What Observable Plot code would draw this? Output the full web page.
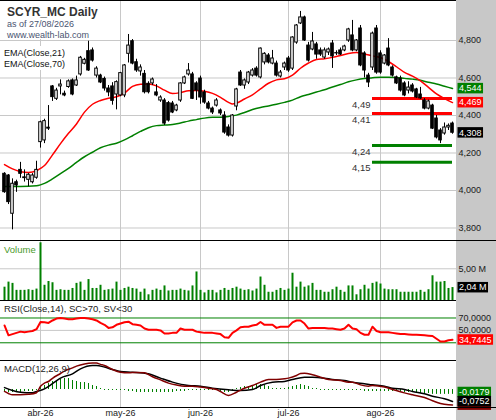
<!DOCTYPE html>
<html><head><meta charset="utf-8">
<script src="https://cdn.jsdelivr.net/npm/d3@7"></script>
<script src="https://cdn.jsdelivr.net/npm/@observablehq/plot@0.6"></script>
<style>
body{margin:0;background:#fff;}
#wrap{position:relative;width:496px;height:420px;overflow:hidden;background:linear-gradient(to right,#fff 0,#fff 456px,#c8c8c8 456px,#c8c8c8 496px);}
#wrap svg{position:absolute;left:0;}
</style></head><body><div id="wrap"></div>
<script>
// ---- data ----
const opens = [4.089,4.080,3.876,4.044,4.110,4.070,4.057,4.044,4.068,4.258, 4.267,4.335,4.555,4.489,4.555,4.516,4.552,4.587,4.560,4.619, 4.676,4.743,4.747,4.613,4.613,4.595,4.544,4.555,4.512,4.507, 4.507,4.729,4.796,4.684,4.635,4.622,4.569,4.571,4.523,4.480, 4.480,4.466,4.464,4.427,4.480,4.571,4.619,4.619,4.571,4.597, 4.523,4.464,4.437,4.453,4.427,4.400,4.336,4.293,4.448,4.629, 4.560,4.576,4.613,4.650,4.603,4.683,4.720,4.677,4.677,4.608, 4.656,4.704,4.650,4.789,4.891,4.923,4.773,4.752,4.779,4.747, 4.709,4.736,4.784,4.731,4.747,4.747,4.800,4.827,4.747,4.864, 4.731,4.613,4.656,4.864,4.731,4.677,4.757,4.656,4.603,4.597, 4.571,4.533,4.560,4.539,4.512,4.480,4.437,4.453,4.384,4.320, 4.304,4.336,4.357];
const highs = [4.095,4.085,4.062,4.055,4.150,4.110,4.090,4.090,4.156,4.370, 4.380,4.453,4.560,4.545,4.590,4.530,4.590,4.595,4.610,4.715, 4.705,4.796,4.760,4.660,4.620,4.605,4.560,4.575,4.585,4.630, 4.672,4.832,4.805,4.700,4.670,4.640,4.580,4.600,4.565,4.505, 4.490,4.475,4.475,4.460,4.575,4.610,4.677,4.630,4.580,4.610, 4.535,4.475,4.445,4.490,4.435,4.420,4.350,4.405,4.545,4.640, 4.595,4.635,4.650,4.660,4.760,4.735,4.730,4.747,4.690,4.640, 4.685,4.715,4.820,4.885,4.955,4.930,4.790,4.843,4.790,4.760, 4.760,4.760,4.800,4.745,4.760,4.775,4.865,4.907,4.805,4.880, 4.740,4.625,4.845,4.880,4.745,4.725,4.810,4.665,4.610,4.610, 4.580,4.580,4.570,4.545,4.550,4.490,4.482,4.460,4.400,4.330, 4.360,4.355,4.365];
const lows = [3.985,3.925,3.790,3.990,4.065,4.045,4.020,4.035,4.060,4.226, 4.250,4.320,4.475,4.480,4.510,4.500,4.545,4.505,4.555,4.610, 4.670,4.635,4.685,4.600,4.570,4.530,4.500,4.455,4.430,4.500, 4.495,4.680,4.670,4.630,4.610,4.515,4.515,4.560,4.500,4.470, 4.347,4.365,4.410,4.420,4.470,4.565,4.610,4.485,4.480,4.460, 4.460,4.430,4.405,4.445,4.400,4.300,4.285,4.285,4.425,4.555, 4.540,4.565,4.605,4.605,4.595,4.670,4.675,4.670,4.605,4.600, 4.640,4.630,4.640,4.780,4.885,4.795,4.685,4.745,4.700,4.715, 4.700,4.720,4.651,4.720,4.720,4.740,4.790,4.740,4.740,4.660, 4.600,4.549,4.640,4.620,4.620,4.670,4.660,4.605,4.565,4.525, 4.500,4.515,4.520,4.490,4.485,4.430,4.430,4.325,4.275,4.250, 4.295,4.320,4.300];
const closes = [3.991,3.938,4.036,4.027,4.089,4.066,4.084,4.080,4.110,4.364, 4.370,4.330,4.498,4.533,4.565,4.507,4.582,4.512,4.587,4.708, 4.697,4.640,4.693,4.650,4.576,4.544,4.523,4.478,4.578,4.626, 4.667,4.773,4.677,4.640,4.656,4.524,4.524,4.592,4.507,4.496, 4.357,4.373,4.416,4.453,4.571,4.603,4.640,4.489,4.533,4.496, 4.469,4.437,4.416,4.480,4.411,4.309,4.293,4.400,4.539,4.560, 4.587,4.629,4.640,4.613,4.757,4.729,4.683,4.704,4.613,4.629, 4.677,4.640,4.816,4.880,4.923,4.800,4.693,4.795,4.725,4.725, 4.747,4.752,4.715,4.733,4.725,4.768,4.859,4.747,4.800,4.667, 4.640,4.576,4.837,4.629,4.629,4.720,4.667,4.613,4.571,4.533, 4.507,4.549,4.528,4.496,4.491,4.437,4.475,4.330,4.283,4.267, 4.336,4.345,4.308];
const volumes = [2.1,2.9,2.7,1.6,1.6,1.6,1.7,1.6,1.8,9.1, 2.4,3.0,2.8,1.6,1.7,1.6,1.6,1.9,2.7,2.9, 1.6,3.3,1.9,1.9,2.4,1.6,1.7,1.8,2.9,1.6, 1.9,2.1,1.9,1.8,1.3,1.8,0.9,1.6,1.8,1.6, 2.3,1.5,1.6,1.6,1.8,1.6,1.5,2.3,4.5,1.6, 1.2,1.6,1.6,1.2,1.6,1.9,1.6,1.9,2.1,1.8, 1.6,1.7,1.5,1.8,3.7,2.4,1.3,1.3,1.6,1.9, 1.6,1.8,4.3,2.1,2.9,2.1,2.3,2.7,1.6,1.6, 1.3,1.3,1.7,2.1,1.6,1.3,2.3,2.3,0.9,1.7, 2.4,1.8,2.7,2.9,2.6,1.8,1.7,1.7,1.7,1.3, 1.3,1.3,1.3,1.3,1.6,1.3,1.7,3.9,2.9,2.9, 3.0,1.9,2.04];
const rsi = [58,42,44,46,48,47,48,49,52,63.5, 63,62,66,69,70,69,68,68,69,70, 70,69,68,66,62,59,54,55,59,61, 63,64,60,59,58,53,51,51,51,50, 45,45,46,46,53,51,51,51,48,47, 46,46,46,45,44,39,38,46,50,55, 56,56,58,59,63.5,59,59,59,54,56, 56,56,63,66,66,61,53,54,54,54, 54,53,53,52,51,53,59,53,52,46, 43,43,56,49,47,47,47,46,45,44, 44,43.5,43,43,42.5,42,41.5,41,36.5,32, 32,34,34.7445];
const ema21 = [[0,4.138],[2,4.115],[4,4.100],[6,4.096],[8,4.105],[9,4.118],[10,4.133],[12,4.190],[14,4.250],[16,4.305],[18,4.355],[20,4.418],[22,4.460],[24,4.480],[26,4.492],[28,4.500],[30,4.520],[32,4.555],[34,4.567],[36,4.568],[38,4.558],[40,4.535],[42,4.517],[44,4.522],[46,4.532],[48,4.533],[50,4.529],[52,4.518],[54,4.497],[56,4.470],[57,4.461],[58,4.466],[60,4.488],[62,4.510],[64,4.542],[66,4.572],[68,4.590],[70,4.596],[72,4.615],[74,4.652],[76,4.680],[78,4.699],[80,4.703],[82,4.710],[84,4.720],[86,4.731],[88,4.736],[90,4.728],[92,4.718],[94,4.709],[96,4.688],[98,4.660],[100,4.630],[102,4.610],[104,4.585],[106,4.550],[108,4.515],[110,4.490],[112,4.469]];
const ema70 = [[0,4.021],[4,4.021],[8,4.025],[9,4.030],[10,4.038],[12,4.062],[14,4.090],[16,4.118],[18,4.150],[20,4.180],[22,4.204],[24,4.228],[26,4.242],[28,4.252],[30,4.270],[32,4.292],[34,4.315],[36,4.335],[38,4.346],[40,4.349],[42,4.352],[44,4.360],[46,4.370],[48,4.378],[50,4.386],[52,4.390],[54,4.391],[56,4.395],[58,4.402],[60,4.416],[62,4.432],[64,4.443],[66,4.451],[68,4.460],[70,4.470],[72,4.482],[74,4.500],[76,4.512],[78,4.525],[80,4.537],[82,4.552],[84,4.565],[86,4.580],[88,4.590],[90,4.597],[92,4.601],[94,4.604],[96,4.604],[98,4.603],[100,4.598],[102,4.594],[104,4.588],[106,4.577],[108,4.568],[110,4.556],[112,4.544]];
const macdLine = [[0,-0.012],[1,-0.025],[2,-0.033],[4,-0.033],[6,-0.030],[8,-0.020],[9,0.020],[10,0.040],[11,0.050],[12,0.070],[14,0.100],[15,0.115],[17,0.135],[18,0.146],[20,0.160],[22,0.165],[23,0.165],[24,0.157],[25,0.150],[27,0.125],[29,0.108],[31,0.104],[33,0.107],[35,0.104],[37,0.080],[39,0.060],[41,0.040],[43,0.028],[45,0.021],[47,0.021],[49,0.015],[51,0.008],[53,0.000],[54,-0.0125],[56,-0.0375],[58,-0.017],[60,0.008],[62,0.025],[64,0.046],[66,0.0625],[68,0.0625],[70,0.067],[71,0.071],[73,0.0875],[74,0.100],[75,0.102],[77,0.092],[79,0.077],[81,0.0625],[84,0.056],[86,0.046],[87,0.046],[89,0.029],[91,0.021],[92,0.025],[95,0.015],[97,0.000],[100,-0.021],[102,-0.033],[105,-0.050],[107,-0.070],[109,-0.088],[111,-0.096],[112,-0.0970]];
const signalLine = [[0,0.012],[2,-0.006],[4,-0.017],[7,-0.021],[8,-0.0125],[10,0.004],[12,0.036],[14,0.071],[17,0.098],[19,0.129],[22,0.150],[23,0.150],[25,0.140],[27,0.125],[29,0.1125],[32,0.108],[36,0.098],[39,0.071],[42,0.046],[46,0.025],[49,0.021],[52,0.008],[56,-0.002],[59,-0.006],[62,0.000],[64,0.025],[67,0.046],[70,0.050],[72,0.0625],[75,0.077],[77,0.077],[80,0.071],[82,0.0625],[85,0.056],[87,0.046],[90,0.036],[92,0.029],[95,0.021],[97,0.008],[100,0.000],[102,-0.0125],[105,-0.027],[107,-0.042],[110,-0.058],[112,-0.0752]];
const macdHist = [-0.0074,-0.011,-0.011,-0.011,-0.011,-0.0074,-0.0074,-0.0074,-0.0037,
  0.011,0.0147,0.022,0.0294,0.0331,0.0368,0.0404,0.0404,0.0331,0.0294,0.0257,0.0257,0.022,0.0147,0.011,0.0037,
  -0.0037,-0.0037,-0.0037,-0.0037,-0.0037,-0.0037,
  -0.0074,-0.0074,-0.011,-0.011,-0.011,-0.011,-0.011,-0.011,-0.011,-0.011,-0.011,-0.011,-0.0074,-0.0074,
  -0.0074,
  -0.0037,-0.0037,-0.0037,-0.0037,-0.0037,-0.0037,-0.0037,-0.0037,
  -0.0074,-0.011,-0.011,-0.0074,
  0.0037,0.0074,0.011,0.011,
  0.0147,0.0184,0.0184,0.0147,0.011,
  0.0037,0.0037,0.0037,0.0037,0.0074,0.011,
  0.0147,0.0184,0.0147,0.011,
  0.0037,0.0037,
  -0.0037,-0.0037,-0.0037,-0.0037,-0.0037,-0.0037,-0.0037,-0.0037,-0.0037,-0.0037,-0.0037,
  -0.0074,-0.0074,-0.0074,-0.0074,-0.0074,-0.0074,-0.0074,-0.0074,-0.0074,-0.0074,
  -0.011,-0.011,-0.011,-0.0147,-0.0147,-0.0147,-0.0147,-0.0179,-0.0179,-0.0179,-0.0179,-0.0179,-0.0179];
const resistance = [4.49, 4.41];
const support = [4.24, 4.15];
const levelFrom = 92, levelTo = 112;
const monthIdx = [9, 29, 49, 71, 94];
const monthLabels = ["abr-26", "may-26", "jun-26", "jul-26", "ago-26"];
const priceTicks = [3.8, 4.0, 4.2, 4.4, 4.6, 4.8];
const volumeTicks = [5];
const rsiTicks = [70, 50];
const rsiBands = [70, 30];

// ---- drawing ----
const W = 496, AXW = 40;
const xDomain = [-1, 113];
const font = "'Liberation Sans', Arial, sans-serif";
const grid = "#c8c8c8";
const histScale = 1.7;
const comma = (v, n) => v.toFixed(n).replace(".", ",");
const bars = closes.map((c, i) => ({i, o: opens[i], h: highs[i], l: lows[i], c, v: volumes[i], r: rsi[i], hs: macdHist[i]}));
const upBars = bars.filter(d => d.c >= d.o), downBars = bars.filter(d => d.c < d.o);

function opts(h, yDomain, marks, mb = 0) {
  return {width: W, height: h, marginLeft: 0, marginRight: AXW, marginTop: 0, marginBottom: mb,
    style: {background: "transparent", fontFamily: font, fontSize: "9px", color: "#1a1a1a", overflow: "visible"},
    x: {domain: xDomain, axis: null, label: null}, y: {domain: yDomain, axis: null, label: null}, marks};
}
function valueLabel(v, fmt, tag) {
  return Plot.text([v], {y: d => d, text: d => fmt(d), frameAnchor: "right", textAnchor: "start", dx: 2.5, fill: "#fff", ariaLabel: () => tag});
}
const axisR = (ticks, fmt) => Plot.axisY({anchor: "right", ticks, tickSize: 0, tickPadding: 2, tickFormat: fmt, fill: "#1a1a1a", label: null});
const pairX = d => d[0], pairY = d => d[1];

const main = Plot.plot(opts(240, [3.73333, 5.01333], [
  Plot.ruleY(priceTicks, {stroke: grid}),
  Plot.ruleX(monthIdx, {stroke: grid}),
  Plot.line(ema70, {x: pairX, y: pairY, stroke: "#008000", curve: "monotone-x"}),
  Plot.line(ema21, {x: pairX, y: pairY, stroke: "#ff0000", curve: "monotone-x"}),
  Plot.ruleY(resistance, {y: d => d, x1: levelFrom, x2: levelTo, stroke: "#ff0000", strokeWidth: 3}),
  Plot.ruleY(support, {y: d => d, x1: levelFrom, x2: levelTo, stroke: "#008000", strokeWidth: 3}),
  Plot.text([...resistance, ...support], {x: levelFrom, y: d => d, text: d => comma(d, 2), textAnchor: "end", dx: -2, dy: 6, fill: "#333", fontSize: 9.5}),
  Plot.ruleX(bars, {x: "i", y1: "l", y2: "h", stroke: "#000"}),
  Plot.rect(upBars, {x1: d => d.i - 0.32, x2: d => d.i + 0.32, y1: "o", y2: "c", fill: "#fff", stroke: "#000"}),
  Plot.rect(downBars, {x1: d => d.i - 0.32, x2: d => d.i + 0.32, y1: "o", y2: "c", fill: "#000", stroke: "#000"}),
  axisR(priceTicks, d => comma(d, 3)),
  valueLabel(ema70[ema70.length - 1][1], d => comma(d, 3), "vbox-green"),
  valueLabel(ema21[ema21.length - 1][1], d => comma(d, 3), "vbox-red"),
  valueLabel(closes[closes.length - 1], d => comma(d, 3), "vbox-black")
]));

const vol = Plot.plot(opts(60, [0, 9.46], [
  Plot.ruleY(volumeTicks, {stroke: grid}),
  Plot.ruleX(monthIdx, {stroke: grid}),
  Plot.ruleX(bars, {x: "i", y1: 0, y2: "v", stroke: "#008000", strokeWidth: 2}),
  axisR(volumeTicks, d => comma(d, 2) + " M"),
  valueLabel(volumes[volumes.length - 1], d => comma(d, 2) + " M", "vbox-black")
]));

const rsiPlot = Plot.plot(opts(60, [1.45, 98.2], [
  Plot.ruleX(monthIdx, {stroke: grid}),
  Plot.ruleY([50], {stroke: grid}),
  Plot.ruleY(rsiBands, {stroke: "#008000"}),
  Plot.line(bars, {x: "i", y: "r", stroke: "#ff0000", strokeWidth: 2}),
  axisR(rsiTicks, d => comma(d, 4)),
  valueLabel(rsi[rsi.length - 1], d => comma(d, 4), "vbox-red")
]));

const macdPlot = Plot.plot(opts(60, [-0.1125, 0.18125], [
  Plot.ruleX(monthIdx, {stroke: grid}),
  Plot.ruleX(bars, {x: "i", y1: 0, y2: d => d.hs * histScale, stroke: "#008000"}),
  Plot.line(signalLine, {x: pairX, y: pairY, stroke: "#000", curve: "monotone-x"}),
  Plot.line(macdLine, {x: pairX, y: pairY, stroke: "#800000", curve: "monotone-x"}),
  Plot.axisX({ticks: monthIdx, tickSize: 0, tickPadding: 2, tickFormat: d => monthLabels[monthIdx.indexOf(d)], fill: "#1a1a1a", label: null}),
  valueLabel(macdLine[macdLine.length - 1][1], d => comma(d, 4), "vbox-dred"),
  valueLabel(macdHist[macdHist.length - 1], d => comma(d, 4), "vbox-green"),
  valueLabel(signalLine[signalLine.length - 1][1], d => comma(d, 4), "vbox-black")
], 13));

const wrap = document.getElementById("wrap");
[[main, 0], [vol, 240], [rsiPlot, 300], [macdPlot, 360]].forEach(([svg, top]) => {
  svg.style.top = top + "px";
  wrap.appendChild(svg);
});

// coloured boxes behind the last-value labels
const boxColors = {"vbox-green": "#008000", "vbox-red": "#ff0000", "vbox-black": "#000000", "vbox-dred": "#800000"};
for (const [tag, col] of Object.entries(boxColors)) {
  wrap.querySelectorAll(`[aria-label="${tag}"]`).forEach(el => {
    const texts = el.tagName.toLowerCase() === "text" ? [el] : Array.from(el.querySelectorAll("text"));
    texts.forEach(t => {
      const b = t.getBBox();
      const r = document.createElementNS("http://www.w3.org/2000/svg", "rect");
      r.setAttribute("x", b.x - 1.5); r.setAttribute("y", b.y - 0.5);
      r.setAttribute("width", b.width + 3); r.setAttribute("height", b.height + 0.5);
      r.setAttribute("fill", col);
      const tr = t.getAttribute("transform"); if (tr) r.setAttribute("transform", tr);
      t.parentNode.insertBefore(r, t);
      // the MACD line's own label lies hidden under the signal label in the reference: keep only its box
      if (tag === "vbox-dred") t.remove();
    });
  });
}

// overlay: panel borders and captions
const ov = d3.select(wrap).append("svg").attr("width", 496).attr("height", 420).style("top", "0px").style("pointer-events", "none")
  .style("font-family", font);
[[0.5, 456], [240.5, 496], [300.5, 456], [360.5, 456], [407.5, 496]].forEach(([y, x2]) =>
  ov.append("line").attr("x1", 0).attr("x2", x2).attr("y1", y).attr("y2", y).attr("stroke", "#000"));
ov.append("rect").attr("x", 1).attr("y", 1).attr("width", 100).attr("height", 38).attr("fill", "#fff");
ov.append("rect").attr("x", 1).attr("y", 46).attr("width", 67).attr("height", 24).attr("fill", "#fff");
const captions = [
  ["SCYR_MC Daily", 7, 16, 12, "bold", "#333"],
  ["as of 27/08/2026", 7, 27, 9, "normal", "#4a5470"],
  ["www.wealth-lab.com", 7, 37.5, 9, "normal", "#4a5470"],
  ["EMA(Close,21)", 4, 56, 9, "normal", "#111"],
  ["EMA(Close,70)", 4, 66.7, 9, "normal", "#111"],
  ["Volume", 4, 253.3, 9.5, "normal", "#4a9a2a"],
  ["RSI(Close,14), SC>70, SV<30", 4, 311.7, 9.5, "normal", "#222"],
  ["MACD(12,26,9)", 4, 371.7, 9.5, "normal", "#222"]
];
captions.forEach(([t, x, y, fs, fw, col]) =>
  ov.append("text").attr("x", x).attr("y", y).attr("font-size", fs).attr("font-weight", fw).attr("fill", col).text(t));
</script></body></html>
